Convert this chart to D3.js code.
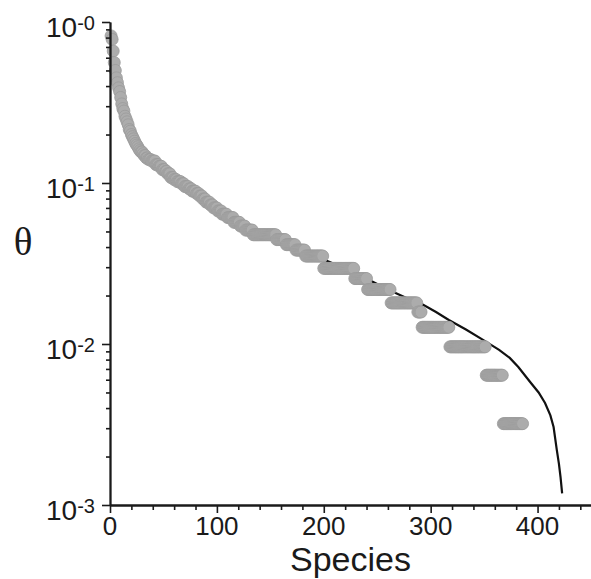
<!DOCTYPE html>
<html>
<head>
<meta charset="utf-8">
<script src="https://cdn.jsdelivr.net/npm/d3@7"></script>
<style>
  html, body { margin: 0; padding: 0; background: #fff; }
  svg { display: block; }
</style>
</head>
<body>
<svg id="chart" width="591" height="579"></svg>
<script>
// ---- data ----
// observed species abundances (theta), as runs of equal value in rank order
const runTheta = [0.82,0.78,0.66,0.56,0.50,0.45,0.42,0.39,0.37,0.34,0.31,0.29,0.28,0.26,0.25,0.24,0.23,0.215,0.21,0.20,
  0.194,0.188,0.182,0.176,0.172,0.168,0.163,0.159,0.156,0.152,0.148,0.143,0.140,0.137,0.130,0.127,0.121,0.118,0.114,0.108,
  0.105,0.102,0.099,0.095,0.092,0.089,0.086,0.083,0.0795,0.076,0.073,0.070,0.067,0.064,0.061,0.057,0.054,0.051,0.0477,0.0445,
  0.0414,0.0383,0.0352,0.0295,0.0255,0.0218,0.018,0.0158,0.0127,0.0096,0.0064,0.0032];
const runCount = [1,1,1,1,1,1,1,1,1,1,1,1,1,1,1,1,1,1,1,1,
  1,1,1,1,1,1,1,1,2,1,2,2,3,4,3,3,3,2,3,3,
  3,4,3,4,3,4,3,3,3,4,3,4,4,5,6,6,5,7,22,9,
  9,9,17,29,12,22,25,4,26,34,16,19];
// fitted curve (species rank, theta)
const curveSpecies = [1,3,6,10,15,20,30,40,50,60,75,90,100,115,130,150,175,200,225,243,262,281,293,305,317,333,349,364,374,382,394,401,407,412,415,418,420,421.5,423];
const curveTheta = [0.78,0.62,0.46,0.34,0.26,0.205,0.157,0.138,0.123,0.107,0.092,0.079,0.070,0.061,0.052,0.046,0.039,0.0335,0.0285,0.0249,0.0215,0.0188,0.0175,0.0158,0.0141,0.0123,0.0106,0.0092,0.0082,0.0072,0.0057,0.0050,0.0043,0.0036,0.00305,0.0022,0.0018,0.00149,0.00118];
const xTickValues = [0,100,200,300,400];
const yTickExponents = [0,-1,-2,-3];
const xLabel = "Species";
const yLabel = "θ";

// ---- build ----
const points = [];
let rankNo = 1;
runTheta.forEach((t, i) => {
  for (let k = 0; k < runCount[i]; k++) points.push({ species: rankNo++, theta: t });
});
const curve = curveSpecies.map((s, i) => ({ species: s, theta: curveTheta[i] }));

const svg = d3.select("#chart");
const mLeft = 110, mRight = 591, mTop = 22, mBottom = 505;
const x = d3.scaleLinear().domain([0, 450]).range([mLeft, mRight]);
const y = d3.scaleLog().domain([0.001, 1]).range([mBottom, mTop]);
const font = "'Liberation Sans', Arial, Helvetica, sans-serif";

// curve (underneath)
svg.append("path")
  .datum(curve)
  .attr("fill", "none")
  .attr("stroke", "#111")
  .attr("stroke-width", 2.2)
  .attr("d", d3.line().x(d => x(d.species)).y(d => y(d.theta)));

// points
svg.append("g").selectAll("circle")
  .data(points)
  .join("circle")
  .attr("cx", d => x(d.species))
  .attr("cy", d => y(d.theta))
  .attr("r", 6)
  .attr("fill", "#acacac")
  .attr("stroke", "#9a9a9a")
  .attr("stroke-width", 0.8);

// axes
function styleAxis(g) {
  g.selectAll(".domain").attr("stroke", "#1a1a1a").attr("stroke-width", 1.8);
  g.selectAll(".tick line").attr("stroke", "#1a1a1a").attr("stroke-width", 1.6);
  g.selectAll(".tick text").remove();
}
const xMinor = d3.range(0, 441, 20).filter(v => v % 100 !== 0);
svg.append("g").attr("transform", `translate(0,${mBottom})`)
  .call(d3.axisBottom(x).tickValues(xMinor).tickSize(5).tickSizeOuter(0))
  .call(styleAxis);
svg.append("g").attr("transform", `translate(0,${mBottom})`)
  .call(d3.axisBottom(x).tickValues(xTickValues).tickSize(8).tickSizeOuter(0))
  .call(styleAxis);

const yMajor = yTickExponents.map(e => Math.pow(10, e));
const yMinor = y.ticks().filter(v => !yMajor.some(m => Math.abs(m - v) / m < 1e-6));
svg.append("g").attr("transform", `translate(${mLeft},0)`)
  .call(d3.axisLeft(y).tickValues(yMinor).tickSize(4).tickSizeOuter(0))
  .call(styleAxis);
svg.append("g").attr("transform", `translate(${mLeft},0)`)
  .call(d3.axisLeft(y).tickValues(yMajor).tickSize(8).tickSizeOuter(0))
  .call(styleAxis);

// x tick labels
svg.append("g").selectAll("text")
  .data(xTickValues)
  .join("text")
  .attr("x", d => x(d))
  .attr("y", 535)
  .attr("text-anchor", "middle")
  .attr("font-family", font)
  .attr("font-size", 26)
  .attr("fill", "#1a1a1a")
  .text(d => d);

// y tick labels with superscript
yTickExponents.forEach(e => {
  const ty = y(Math.pow(10, e));
  const t = svg.append("text")
    .attr("x", 95)
    .attr("y", ty + 15)
    .attr("text-anchor", "end")
    .attr("font-family", font)
    .attr("fill", "#1a1a1a");
  t.append("tspan").attr("font-size", 28).text("10");
  t.append("tspan").attr("font-size", 20).attr("dy", -7).text("-" + Math.abs(e));
});

// axis titles
svg.append("text")
  .attr("x", (mLeft + mRight) / 2)
  .attr("y", 571)
  .attr("text-anchor", "middle")
  .attr("font-family", font)
  .attr("font-size", 34)
  .attr("fill", "#1a1a1a")
  .text(xLabel);
svg.append("text")
  .attr("x", 23)
  .attr("y", 255)
  .attr("text-anchor", "middle")
  .attr("font-family", "'Liberation Serif', 'Times New Roman', serif")
  .attr("font-size", 39)
  .attr("fill", "#1a1a1a")
  .text(yLabel);
</script>
</body>
</html>
